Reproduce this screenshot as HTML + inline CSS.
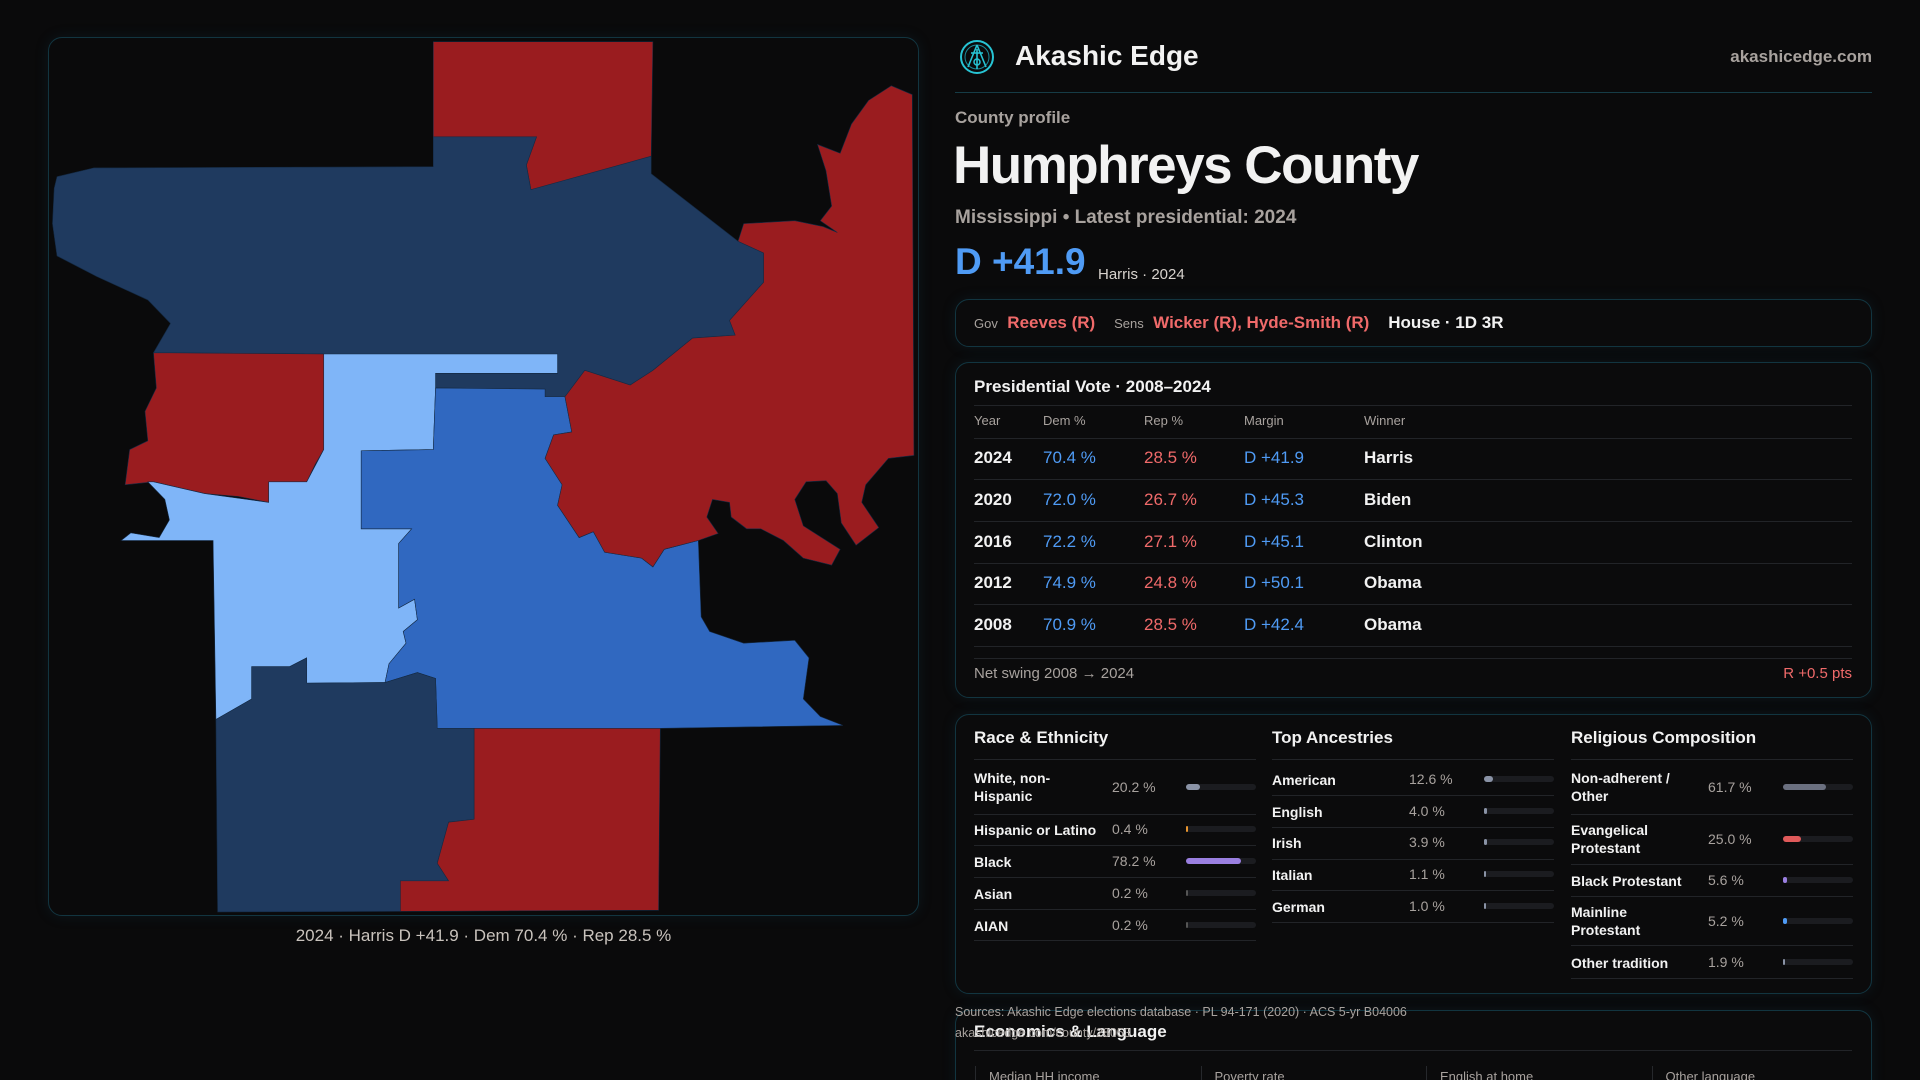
<!DOCTYPE html>
<html><head><meta charset="utf-8">
<style>
*{box-sizing:border-box;margin:0;padding:0}
html,body{width:1920px;height:1080px;overflow:hidden;background:#0a0a0b}
body{font-family:"Liberation Sans",sans-serif;color:#f2f2f2}
#root{position:relative;width:1920px;height:1080px;overflow:hidden;background:#0a0a0b}
.abs{position:absolute;white-space:nowrap}
.card{position:absolute;border:1px solid #123540;border-radius:14px;background:#0b0b0c;box-shadow:0 0 14px rgba(20,80,100,0.18)}
.gray{color:#a8a29e}
.blue{color:#4f9bf5}
.red{color:#f06a6a}
.hl{position:absolute;height:1px;background:#222428}
</style></head><body>
<div id="root">
<div class="card" style="left:48px;top:37px;width:871px;height:879px;background:#0a0a0b"></div>
<svg style="position:absolute;left:0;top:0" width="940" height="930">
<g transform="translate(40,30) scale(0.5675,0.5868)" stroke="#142a44" stroke-width="1">
<polygon fill="#9a1c1f" points="693,20 1080,20 1077,215 1050,235 865,272 857,230 875,182 693,182"/>
<polygon fill="#1f3a5f" points="30,250 95,235 693,233 693,182 875,182 857,230 865,272 1077,215 1077,245 1230,360 1275,380 1275,430 1215,495 1225,520 1150,525 1080,580 1040,605 960,580 925,625 890,625 890,612 697,610 697,585 912,585 912,552 500,552 200,550 230,500 190,460 100,420 30,385 22,330 25,270"/>
<polygon fill="#9a1c1f" points="200,550 500,552 500,715 485,740 470,770 403,770 403,805 350,795 290,790 200,770 150,775 158,715 190,700 185,650 205,610"/>
<polygon fill="#7fb5f8" points="500,552 912,552 912,585 697,585 697,610 693,715 566,717 566,850 655,850 632,875 632,985 660,970 665,1005 640,1025 645,1045 615,1080 608,1112 470,1113 470,1070 440,1085 373,1085 373,1140 310,1175 305,870 143,870 160,857 210,865 228,835 220,800 190,770 200,770 290,790 403,805 403,770 470,770 500,715"/>
<polygon fill="#3068c0" points="697,610 890,612 890,625 925,625 937,685 905,690 890,730 920,775 912,810 950,865 975,855 995,890 1060,900 1080,915 1100,885 1160,870 1165,1000 1180,1025 1240,1045 1330,1040 1355,1070 1345,1140 1375,1170 1415,1185 1095,1190 765,1190 700,1190 697,1105 665,1095 608,1112 615,1080 645,1045 640,1025 665,1005 660,970 632,985 632,875 655,850 566,850 566,717 693,715"/>
<polygon fill="#1f3a5f" points="310,1175 373,1140 373,1085 440,1085 470,1070 470,1113 608,1112 665,1095 697,1105 700,1190 765,1190 765,1345 720,1350 700,1420 720,1450 635,1450 635,1502 313,1503"/>
<polygon fill="#9a1c1f" points="765,1190 1093,1190 1090,1500 635,1502 635,1450 720,1450 700,1420 720,1350 765,1345"/>
<polygon fill="#9a1c1f" points="925,625 960,580 1040,605 1080,580 1150,525 1225,520 1215,495 1275,430 1275,380 1230,360 1240,330 1330,325 1380,335 1405,345 1375,325 1395,300 1385,240 1370,195 1410,210 1430,160 1460,120 1500,95 1537,110 1540,725 1495,730 1455,775 1448,805 1478,848 1438,878 1412,840 1405,790 1385,768 1350,770 1330,800 1345,845 1410,885 1395,912 1345,900 1310,870 1270,850 1245,850 1218,830 1215,805 1185,800 1175,830 1195,858 1160,870 1100,885 1080,915 1060,900 995,890 975,855 950,865 912,810 920,775 890,730 905,690 937,685"/>
</g></svg>
<div class="abs gray" style="left:48px;width:871px;text-align:center;top:926px;font-size:17px;color:#c9c3bd">2024 · Harris D +41.9 · Dem 70.4 % · Rep 28.5 %</div>

<svg style="position:absolute;left:959px;top:39px" width="36" height="36">
<circle cx="18" cy="18" r="16" fill="none" stroke="#27c4d4" stroke-width="2"/>
<circle cx="18" cy="18" r="12" fill="none" stroke="#1a8a99" stroke-width="1"/>
<path d="M18 6 L9 28 M18 6 L27 28 M18 10 L18 30 M12 14 L24 14" stroke="#27c4d4" stroke-width="1.6" fill="none"/>
<circle cx="18" cy="23" r="3" fill="none" stroke="#27c4d4" stroke-width="1.5"/>
</svg>
<div class="abs" style="left:1015px;top:40px;font-size:28px;font-weight:bold">Akashic Edge</div>
<div class="abs gray" style="right:48px;top:47px;font-size:17px;font-weight:bold">akashicedge.com</div>
<div class="hl" style="left:955px;width:917px;top:92px;background:#163c46"></div>
<div class="abs gray" style="left:955px;top:108px;font-size:17px;font-weight:bold">County profile</div>
<div class="abs" style="left:953px;top:135px;font-size:53px;font-weight:bold;letter-spacing:-1.5px">Humphreys County</div>
<div class="abs gray" style="left:955px;top:207px;font-size:19px;font-weight:bold">Mississippi • Latest presidential: 2024</div>
<div class="abs blue" style="left:955px;top:241px;font-size:37px;font-weight:bold">D +41.9</div>
<div class="abs" style="left:1098px;top:266px;font-size:15px;color:#d8d3ce">Harris · 2024</div>

<div class="card" style="left:955px;top:299px;width:917px;height:48px"></div>
<div class="abs" style="left:974px;top:313px;font-size:17px;font-weight:bold">
<span class="gray" style="font-size:13px;font-weight:normal">Gov</span>&nbsp; <span class="red">Reeves (R)</span>&nbsp;&nbsp;&nbsp; <span class="gray" style="font-size:13px;font-weight:normal">Sens</span>&nbsp; <span class="red">Wicker (R), Hyde-Smith (R)</span>&nbsp;&nbsp;&nbsp; <span>House · 1D 3R</span></div>

<div class="card" style="left:955px;top:362px;width:917px;height:336px"></div>
<div class="abs" style="left:974px;top:377px;font-size:17px;font-weight:bold">Presidential Vote · 2008–2024</div>
<div class="hl" style="left:974px;width:878px;top:405px"></div>
<div id="pres"></div>
<div class="hl" style="left:974px;width:878px;top:658px"></div>
<div class="abs gray" style="left:974px;top:665px;font-size:15px">Net swing 2008 → 2024</div>
<div class="abs red" style="right:68px;top:665px;font-size:15px">R +0.5 pts</div>

<div class="card" style="left:955px;top:714px;width:917px;height:280px"></div>
<div id="demo"></div>

<div class="card" style="left:955px;top:1010px;width:917px;height:100px"></div>
<div class="abs" style="left:974px;top:1022px;font-size:17px;font-weight:bold">Economics &amp; Language</div>
<div class="abs gray" style="left:955px;top:1005px;font-size:12.5px">Sources: Akashic Edge elections database · PL 94-171 (2020) · ACS 5-yr B04006</div>
<div class="abs gray" style="left:955px;top:1026px;font-size:12.5px">akashicedge.com/county/28053</div>
<div class="hl" style="left:974px;width:878px;top:1050px"></div>
<div id="econ"></div>
</div>
<script>
const presYears=["2024","2020","2016","2012","2008"];
const presDem=[70.4,72.0,72.2,74.9,70.9];
const presRep=[28.5,26.7,27.1,24.8,28.5];
const presWinner=["Harris","Biden","Clinton","Obama","Obama"];
const raceLabels=["White, non-<br>Hispanic","Hispanic or Latino","Black","Asian","AIAN"];
const raceValues=[20.2,0.4,78.2,0.2,0.2];
const ancLabels=["American","English","Irish","Italian","German"];
const ancValues=[12.6,4.0,3.9,1.1,1.0];
const relLabels=["Non-adherent /<br>Other","Evangelical<br>Protestant","Black Protestant","Mainline<br>Protestant","Other tradition"];
const relValues=[61.7,25.0,5.6,5.2,1.9];
const econLabels=["Median HH income","Poverty rate","English at home","Other language"];

function add(parent,html,style,name){const d=document.createElement('div');d.className='abs';d.innerHTML=html;d.style.cssText=style;


parent.appendChild(d);return d;}
const pres=document.getElementById('pres');
const cols=[974,1043,1144,1244,1364];
["Year","Dem %","Rep %","Margin","Winner"].forEach((h,i)=>add(pres,h,`left:${cols[i]}px;top:413px;font-size:13px;color:#a8a29e`,'table-header'));
add(pres,'',`left:974px;width:878px;height:1px;top:438px;background:#222428`,'table-divider');
presYears.forEach((y,i)=>{const cy=458+i*41.75;const t=cy-10;
 const m=presDem[i]-presRep[i];
 add(pres,y,`left:${cols[0]}px;top:${t}px;font-size:17px;font-weight:bold`,'row-year');
 add(pres,presDem[i].toFixed(1)+' %',`left:${cols[1]}px;top:${t}px;font-size:17px;color:#4f9bf5`,'row-dem');
 add(pres,presRep[i].toFixed(1)+' %',`left:${cols[2]}px;top:${t}px;font-size:17px;color:#f06a6a`,'row-rep');
 add(pres,(m>=0?'D +':'R +')+Math.abs(m).toFixed(1),`left:${cols[3]}px;top:${t}px;font-size:17px;color:${m>=0?'#4f9bf5':'#f06a6a'}`,'row-margin');
 add(pres,presWinner[i],`left:${cols[4]}px;top:${t}px;font-size:17px;font-weight:bold`,'row-winner');
 add(pres,'',`left:974px;width:878px;height:1px;top:${cy+21}px;background:#222428`,'row-divider');
});
const demo=document.getElementById('demo');
function section(x,title,labels,vals,rowYs,lineYs,valX,barX,colors,name){
 add(demo,title,`left:${x}px;top:728px;font-size:17px;font-weight:bold`,name+'-title');
 add(demo,'',`left:${x}px;width:282px;height:1px;top:759px;background:#222428`,name+'-divider');
 labels.forEach((l,i)=>{const cy=rowYs[i];const two=l.includes('<br>');
  add(demo,l,`left:${x}px;top:${cy-(two?18:8)}px;font-size:14px;font-weight:bold;line-height:18px`,name+'-label');
  add(demo,vals[i].toFixed(1)+' %',`left:${valX}px;top:${cy-8}px;font-size:14px;color:#a8a29e`,name+'-value');
  const tr=add(demo,'',`left:${barX}px;top:${cy-3}px;width:70px;height:6px;border-radius:3px;background:#1b1c20`,name+'-bar-track');
  const f=document.createElement('div');f.style.cssText=`width:${Math.max(1.5,vals[i]/100*70)}px;height:6px;border-radius:3px;background:${colors[i]}`;
  
  
  tr.appendChild(f);
  add(demo,'',`left:${x}px;width:282px;height:1px;top:${lineYs[i]}px;background:#222428`,name+'-row-divider');
 });
}
section(974,'Race &amp; Ethnicity',raceLabels,raceValues,[787,829,861,893,925],[814,845,877,909,940],1112,1186,['#8a93a6','#e8952f','#9a7fe0','#555','#555'],'race');
section(1272,'Top Ancestries',ancLabels,ancValues,[779,811,842,874,906],[795,827,859,890,922],1409,1484,['#8a93a6','#8a93a6','#8a93a6','#8a93a6','#8a93a6'],'ancestry');
section(1571,'Religious Composition',relLabels,relValues,[787,839,880,921,962],[814,864,896,945,978],1708,1783,['#6b7080','#e05a5a','#9a7fe0','#4f9bf5','#8a93a6'],'religion');
const econ=document.getElementById('econ');
econLabels.forEach((l,i)=>{const x=975+i*225.5;
 add(econ,'',`left:${x}px;top:1066px;width:1px;height:30px;background:#26282c`,'econ-divider');
 add(econ,l,`left:${x+14}px;top:1069px;font-size:13px;color:#a8a29e`,'econ-label');
});
</script>
</body></html>
